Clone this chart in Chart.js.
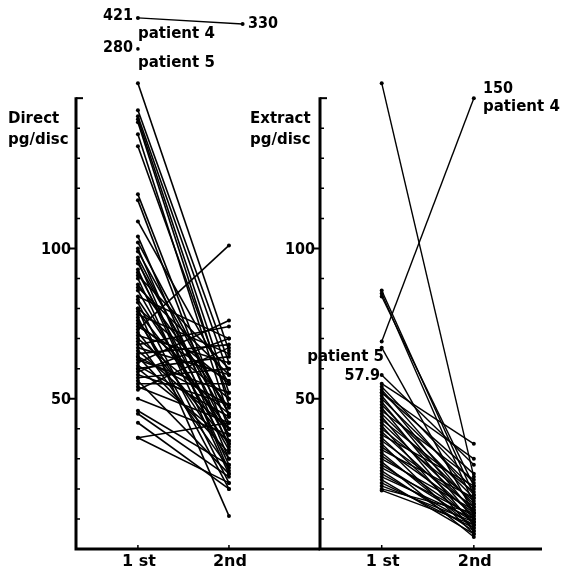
<!DOCTYPE html>
<html>
<head>
<meta charset="utf-8">
<script src="https://cdn.jsdelivr.net/npm/chart.js@4.4.1/dist/chart.umd.min.js"></script>
<style>
html, body { margin: 0; padding: 0; background: #fff; }
#wrap { position: relative; width: 561px; height: 574px; overflow: hidden; }
canvas { position: absolute; top: 0; }
#directChart { left: 0; }
#extractChart { left: 240px; }
</style>
</head>
<body>
<div id="wrap">
  <canvas id="directChart" width="330" height="574"></canvas>
  <canvas id="extractChart" width="321" height="574"></canvas>
</div>
<script>
// sessions on the x axis
const sessions = ["1 st", "2nd"];
const sessionX = [1, 2];

// y axis: minor ticks every 10 up to 150, labels at 50 and 100
const yMinorTicks = [10, 20, 30, 40, 60, 70, 80, 90, 110, 120, 130, 140];
const yLabelTicks = [50, 100];
const yAxisTop = 150;

// Direct (pg/disc) - 1st and 2nd value of each patient
const directFirst  = [155, 146, 144, 143, 142, 138, 134, 118, 116, 109, 104, 102, 100, 97, 95, 93, 91, 90, 88, 86,
                      84, 82, 80, 79, 78, 76, 75, 73, 72, 71, 70, 69, 68, 67, 66, 65, 64, 63, 62, 61,
                      60, 60, 59, 58, 57, 56, 55, 54, 53, 50, 80, 46, 45, 42, 37, 37,
                      99, 96, 92, 87, 83, 77, 74, 64];
const directSecond = [66, 62, 58, 52, 48, 44, 50, 40, 36, 55, 34, 45, 30, 38, 42, 28, 60, 25, 47, 33,
                      70, 22, 55, 40, 65, 30, 50, 101, 35, 62, 45, 27, 74, 58, 40, 68, 32, 52, 76, 44,
                      64, 36, 70, 48, 60, 25, 55, 42, 67, 38, 11, 28, 24, 20, 42, 22,
                      45, 26, 35, 58, 38, 20, 56, 48];

// Direct values off the scale (drawn above the axis break)
const directOutlierLabels = ["421", "330", "280"];
const directOutlierX = [1, 2.15, 1];
const directOutlierPos = [176.7, 174.7, 166.4];

// Extract (pg/disc)
const extractFirst  = [155, 69, 86, 85, 84, 67, 57.9, 55, 52, 54, 53, 52, 51, 50, 49, 48, 47, 46, 45, 44,
                       43, 42, 41, 40, 39, 38, 37, 36, 35, 34, 33, 32, 31, 30, 29, 28, 27, 26, 25, 24,
                       23, 22, 21, 20, 19.5];
const extractSecond = [24, 150, 18, 15, 21, 12, 28, 35, 30, 22, 18, 25, 14, 20, 12, 17, 10, 23, 15, 8,
                       19, 13, 6, 16, 11, 21, 9, 14, 5, 12, 17, 7, 10, 13, 4, 9, 11, 6, 8, 10,
                       5, 7, 9, 12, 8];

const FONT = '"DejaVu Sans", sans-serif';
const NUMFONT = '"DejaVu Sans Condensed", "DejaVu Sans", sans-serif';

function pairDatasets(first, second, width) {
    return first.map((v, i) => ({
        data: [{ x: sessionX[0], y: v }, { x: sessionX[1], y: second[i] }],
        borderColor: "#000",
        borderWidth: width,
        pointRadius: 2,
        pointBackgroundColor: "#000",
        pointBorderWidth: 0,
    }));
}

// draws the paper-style axes and the texts
function paperAxes(opts) {
    return {
        id: "paperAxes",
        afterDraw(chart) {
            const ctx = chart.ctx;
            const xs = chart.scales.x, ys = chart.scales.y;
            const x0 = xs.left;
            const yb = ys.getPixelForValue(0);
            const yt = ys.getPixelForValue(yAxisTop);
            const off = opts.offsetX;
            ctx.save();
            ctx.strokeStyle = "#000";
            ctx.fillStyle = "#000";
            // axis lines
            ctx.lineWidth = 3;
            ctx.beginPath();
            ctx.moveTo(x0, yt - 1);
            ctx.lineTo(x0, yb + 1.5);
            ctx.moveTo(x0 - 1.5, yb);
            ctx.lineTo(xs.right, yb);
            ctx.stroke();
            // cap at the top
            ctx.lineWidth = 2;
            ctx.beginPath();
            ctx.moveTo(x0, yt);
            ctx.lineTo(x0 + 7, yt);
            ctx.stroke();
            // minor ticks
            ctx.lineWidth = 1.5;
            ctx.beginPath();
            yMinorTicks.forEach(v => {
                const p = ys.getPixelForValue(v);
                ctx.moveTo(x0, p);
                ctx.lineTo(x0 + 4, p);
            });
            sessionX.forEach(v => {
                const p = xs.getPixelForValue(v);
                ctx.moveTo(p, yb);
                ctx.lineTo(p, yb - 4);
            });
            ctx.stroke();
            // labelled ticks
            ctx.lineWidth = 2;
            ctx.beginPath();
            yLabelTicks.forEach(v => {
                const p = ys.getPixelForValue(v);
                ctx.moveTo(x0 - 6, p);
                ctx.lineTo(x0, p);
            });
            ctx.stroke();
            ctx.font = "bold 16px " + NUMFONT;
            ctx.textAlign = "right";
            ctx.textBaseline = "middle";
            yLabelTicks.forEach(v => {
                ctx.fillText(String(v), x0 - 5, ys.getPixelForValue(v) + 1);
            });
            // x labels
            ctx.font = "bold 16px " + FONT;
            ctx.textAlign = "center";
            sessions.forEach((s, i) => {
                ctx.fillText(s, xs.getPixelForValue(sessionX[i]) + 1, yb + 13);
            });
            // free texts (page coordinates)
            opts.texts.forEach(t => {
                ctx.font = (t.size || "bold 15px") + " " + (t.num ? NUMFONT : FONT);
                ctx.textAlign = t.align || "left";
                ctx.fillText(t.text, t.x - off, t.y);
            });
            ctx.restore();
        }
    };
}

function baseOptions(xMin, xMax, pad) {
    return {
        responsive: false,
        animation: false,
        layout: { padding: pad },
        plugins: { legend: { display: false }, tooltip: { enabled: false } },
        scales: {
            x: { type: "linear", min: xMin, max: xMax, display: false },
            y: { type: "linear", min: 0, max: 180, display: false },
        },
    };
}

// Direct panel
const directSets = pairDatasets(directFirst, directSecond, 1.6);
directSets.push({
    data: [{ x: directOutlierX[0], y: directOutlierPos[0] }, { x: directOutlierX[1], y: directOutlierPos[1] }],
    borderColor: "#000", borderWidth: 1.4, pointRadius: 2, pointBackgroundColor: "#000", pointBorderWidth: 0,
});
directSets.push({
    data: [{ x: directOutlierX[2], y: directOutlierPos[2] }],
    borderColor: "#000", pointRadius: 1.8, pointBackgroundColor: "#000", pointBorderWidth: 0,
});

new Chart(document.getElementById("directChart"), {
    type: "line",
    data: { datasets: directSets },
    options: baseOptions(0.32, 3.0, { left: 76, right: 10, top: 8, bottom: 25 }),
    plugins: [paperAxes({
        offsetX: 0,
        texts: [
            { text: "Direct", x: 8, y: 119 },
            { text: "pg/disc", x: 8, y: 140 },
            { text: directOutlierLabels[0], x: 133, y: 16, align: "right", num: true, size: "bold 16px" },
            { text: directOutlierLabels[1], x: 248, y: 24, num: true, size: "bold 16px" },
            { text: directOutlierLabels[2], x: 133, y: 48, align: "right", num: true, size: "bold 16px" },
            { text: "patient 4", x: 138, y: 34 },
            { text: "patient 5", x: 138, y: 63 },
        ],
    })],
});

// Extract panel
new Chart(document.getElementById("extractChart"), {
    type: "line",
    data: { datasets: pairDatasets(extractFirst, extractSecond, 1.4) },
    options: baseOptions(0.33, 2.74, { left: 80, right: 19, top: 8, bottom: 25 }),
    plugins: [paperAxes({
        offsetX: 240,
        texts: [
            { text: "Extract", x: 250, y: 119 },
            { text: "pg/disc", x: 250, y: 140 },
            { text: "150", x: 483, y: 89, num: true, size: "bold 16px" },
            { text: "patient 4", x: 483, y: 107 },
            { text: "patient 5", x: 384, y: 357, align: "right" },
            { text: "57.9", x: 380, y: 376, align: "right", num: true, size: "bold 16px" },
        ],
    })],
});
</script>
</body>
</html>
